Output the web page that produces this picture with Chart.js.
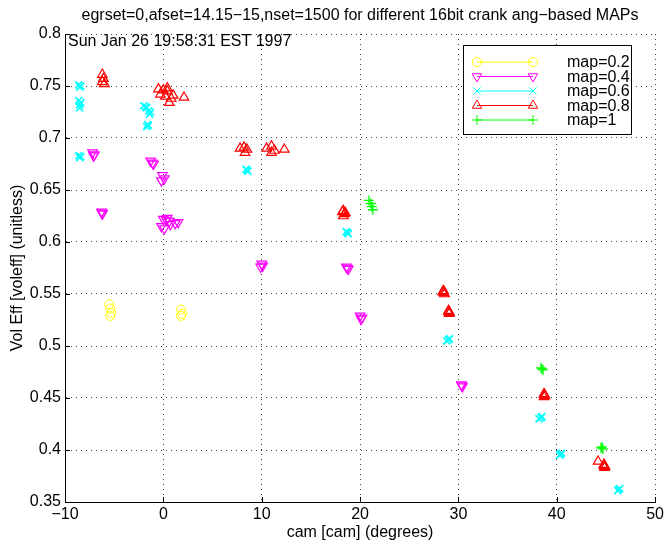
<!DOCTYPE html>
<html>
<head>
<meta charset="utf-8">
<script src="https://cdn.jsdelivr.net/npm/chart.js@4.4.0/dist/chart.umd.min.js"></script>
<style>
    html, body { margin: 0; padding: 0; background: #fff; }
    #chart { display: block; }
</style>
</head>
<body>
<canvas id="chart" width="667" height="541"></canvas>
<script>
const chartTitle = "egrset=0,afset=14.15−15,nset=1500 for different 16bit crank ang−based MAPs";
const dateStamp = "Sun Jan 26 19:58:31 EST 1997";
const xAxisLabel = "cam [cam] (degrees)";
const yAxisLabel = "Vol Eff [voleff] (unitless)";

const mapLabels = ["map=0.2", "map=0.4", "map=0.6", "map=0.8", "map=1"];
const mapColors = ["#ffff00", "#ff00ff", "#00ffff", "#ff0000", "#00ff00"];

// map=0.2
const camMap02 = [-5.5, -5.4, -5.3, -5.4, 1.8, 1.9, 1.8];
const volMap02 = [0.540, 0.536, 0.532, 0.529, 0.535, 0.531, 0.529];

// map=0.4
const camMap04 = [-7.2, -7.0, -7.1, -6.3, -6.2, -6.2, -1.3, -1.1, -1.0, -0.1, 0.1, -0.2,
    0.0, 0.3, 0.6, -0.2, 0.1, 1.2, 1.5, 0.7, 0.4, 10.0, 10.1, 9.9, 18.6, 18.8, 18.7,
    20.0, 20.2, 20.1, 30.3, 30.4, 30.35];
const volMap04 = [0.686, 0.684, 0.683, 0.629, 0.627, 0.628, 0.678, 0.676, 0.675, 0.664, 0.661, 0.659,
    0.622, 0.621, 0.620, 0.615, 0.613, 0.618, 0.619, 0.617, 0.623, 0.579, 0.577, 0.576, 0.576, 0.574, 0.575,
    0.529, 0.527, 0.526, 0.463, 0.461, 0.462];

// map=0.6
const camMap06 = [-8.6, -8.5, -8.4, -8.6, -8.5, -8.5, -8.4, -8.6, -8.5, -8.4,
    -2.0, -1.8, -1.7, -1.5, -1.4, -1.3, -1.6, -1.7, -1.5,
    8.4, 8.6, 8.5, 18.7, 18.6, 18.8, 29.0, 28.8, 29.1, 38.4, 38.2, 38.5,
    40.4, 40.5, 40.3, 46.3, 46.4, 46.2];
const volMap06 = [0.751, 0.749, 0.750, 0.736, 0.732, 0.729, 0.734, 0.683, 0.681, 0.682,
    0.731, 0.730, 0.729, 0.726, 0.723, 0.725, 0.713, 0.711, 0.712,
    0.670, 0.668, 0.669, 0.609, 0.610, 0.608, 0.506, 0.505, 0.507, 0.431, 0.430, 0.432,
    0.396, 0.397, 0.395, 0.362, 0.363, 0.361];

// map=0.8
const camMap08 = [-6.2, -6.1, -6.2, -6.0, -0.5, 0.0, 0.4, -0.3, 0.2, 0.8, 1.0, 0.6, 2.1, 0.4,
    7.8, 8.2, 8.5, 8.3, 10.5, 11.0, 11.3, 12.3, 11.0,
    18.2, 18.4, 18.3, 18.5, 18.3, 28.4, 28.6, 28.5, 28.5, 29.0, 29.1, 29.0, 29.05,
    38.7, 38.8, 38.75, 38.7, 44.2, 44.8, 44.9, 44.85, 44.8];
const volMap08 = [0.761, 0.757, 0.754, 0.752, 0.747, 0.746, 0.748, 0.742, 0.740, 0.738, 0.741, 0.734, 0.739, 0.745,
    0.690, 0.691, 0.689, 0.686, 0.690, 0.692, 0.688, 0.689, 0.686,
    0.629, 0.627, 0.625, 0.628, 0.630, 0.552, 0.550, 0.551, 0.553, 0.534, 0.532, 0.533, 0.531,
    0.454, 0.452, 0.453, 0.451, 0.389, 0.385, 0.384, 0.383, 0.386];

// map=1
const camMap10 = [20.9, 21.1, 21.2, 21.3, 38.5, 38.6, 38.4, 44.6, 44.7, 44.5];
const volMap10 = [0.640, 0.637, 0.634, 0.631, 0.478, 0.477, 0.479, 0.403, 0.401, 0.402];

const xTicksMin = -10, xTicksMax = 50, xStep = 10;
const yTicksMin = 0.35, yTicksMax = 0.8, yStep = 0.05;

const camSeries = [camMap02, camMap04, camMap06, camMap08, camMap10];
const volSeries = [volMap02, volMap04, volMap06, volMap08, volMap10];

// marker look per series (matlab o v x ^ +)
const markerStyles = [
    {pointStyle: "circle", radius: 4.5, rotation: 0, borderWidth: 1},
    {pointStyle: "triangle", radius: 5.5, rotation: 180, borderWidth: 1.2},
    {pointStyle: "crossRot", radius: 5, rotation: 0, borderWidth: 1.6},
    {pointStyle: "triangle", radius: 5.5, rotation: 0, borderWidth: 1.2},
    {pointStyle: "cross", radius: 5, rotation: 0, borderWidth: 1.3},
];

const FONT = "'Liberation Sans', Arial, Helvetica, sans-serif";
const FONT_SIZE = 16;

const datasets = mapLabels.map((label, i) => ({
    label: label,
    data: camSeries[i].map((c, j) => ({x: c, y: volSeries[i][j]})),
    borderColor: mapColors[i],
    backgroundColor: "rgba(0,0,0,0)",
    pointBorderColor: mapColors[i],
    pointBackgroundColor: "rgba(0,0,0,0)",
    pointStyle: markerStyles[i].pointStyle,
    pointRadius: markerStyles[i].radius,
    pointRotation: markerStyles[i].rotation,
    pointBorderWidth: markerStyles[i].borderWidth,
    showLine: false,
}));

const matlabDecor = {
    id: "matlabDecor",
    afterDraw(chart) {
        const ctx = chart.ctx;
        const area = chart.chartArea;
        const xs = chart.scales.x, ys = chart.scales.y;
        ctx.save();

        // inward ticks
        ctx.strokeStyle = "#000";
        ctx.lineWidth = 1;
        ctx.setLineDash([]);
        ctx.beginPath();
        xs.ticks.forEach(t => {
            const px = Math.round(xs.getPixelForValue(t.value)) + 0.5;
            ctx.moveTo(px, area.bottom);
            ctx.lineTo(px, area.bottom - 5);
        });
        ys.ticks.forEach(t => {
            const py = Math.round(ys.getPixelForValue(t.value)) + 0.5;
            ctx.moveTo(area.left, py);
            ctx.lineTo(area.left + 5, py);
        });
        ctx.stroke();

        // title
        ctx.fillStyle = "#000";
        ctx.font = FONT_SIZE + "px " + FONT;
        ctx.textAlign = "center";
        ctx.textBaseline = "alphabetic";
        ctx.fillText(chartTitle, (area.left + area.right) / 2, 20);

        // date stamp
        ctx.textAlign = "left";
        ctx.fillText(dateStamp, area.left + 3, area.top + 12);

        // legend box
        const bx = 463, by = 45, bw = 168, bh = 89;
        ctx.fillStyle = "#fff";
        ctx.fillRect(bx, by, bw, bh);
        ctx.strokeStyle = "#000";
        ctx.strokeRect(bx + 0.5, by + 0.5, bw, bh);

        ctx.textBaseline = "middle";
        mapLabels.forEach((label, i) => {
            const y = by + 17 + i * 14.5;
            const x1 = bx + 14, x2 = bx + 70;
            ctx.strokeStyle = mapColors[i];
            ctx.fillStyle = "rgba(0,0,0,0)";
            ctx.lineWidth = 1;
            ctx.beginPath();
            ctx.moveTo(x1, y);
            ctx.lineTo(x2, y);
            ctx.stroke();
            const opts = Object.assign({}, markerStyles[i], {borderWidth: 1});
            Chart.helpers.drawPoint(ctx, opts, x1, y);
            Chart.helpers.drawPoint(ctx, opts, x2, y);
            ctx.fillStyle = "#000";
            ctx.fillText(label, bx + 104, y + 1);
        });
        ctx.restore();
    }
};

const minusSign = v => String(v).replace("-", "\u2212");

new Chart(document.getElementById("chart").getContext("2d"), {
    type: "scatter",
    data: {datasets: datasets},
    options: {
        responsive: false,
        animation: false,
        devicePixelRatio: 1,
        layout: {padding: {top: 34, right: 9, left: 0, bottom: 0}},
        plugins: {legend: {display: false}, tooltip: {enabled: false}, title: {display: false}},
        scales: {
            x: {
                type: "linear",
                min: xTicksMin,
                max: xTicksMax,
                afterFit: s => { s.height = 39; },
                ticks: {
                    stepSize: xStep,
                    padding: 3,
                    color: "#000",
                    font: {family: FONT, size: FONT_SIZE},
                    maxRotation: 0,
                    callback: v => minusSign(v),
                },
                grid: {color: "rgba(0,0,0,0.75)", lineWidth: 1, drawTicks: false},
                border: {display: true, color: "#000", width: 1, dash: [1, 4]},
                title: {display: true, text: xAxisLabel, color: "#000", font: {family: FONT, size: FONT_SIZE}, padding: {top: 0, bottom: -1}},
            },
            y: {
                type: "linear",
                min: yTicksMin,
                max: yTicksMax,
                afterFit: s => { s.width = 65; },
                ticks: {
                    stepSize: yStep,
                    padding: 4,
                    color: "#000",
                    font: {family: FONT, size: FONT_SIZE},
                    callback: v => minusSign(parseFloat(v.toFixed(2))),
                },
                grid: {color: "rgba(0,0,0,0.75)", lineWidth: 1, drawTicks: false},
                border: {display: true, color: "#000", width: 1, dash: [1, 4]},
                title: {display: true, text: yAxisLabel, color: "#000", font: {family: FONT, size: FONT_SIZE}, padding: {top: 8, bottom: 0}},
            },
        },
    },
    plugins: [matlabDecor],
});
</script>
</body>
</html>
